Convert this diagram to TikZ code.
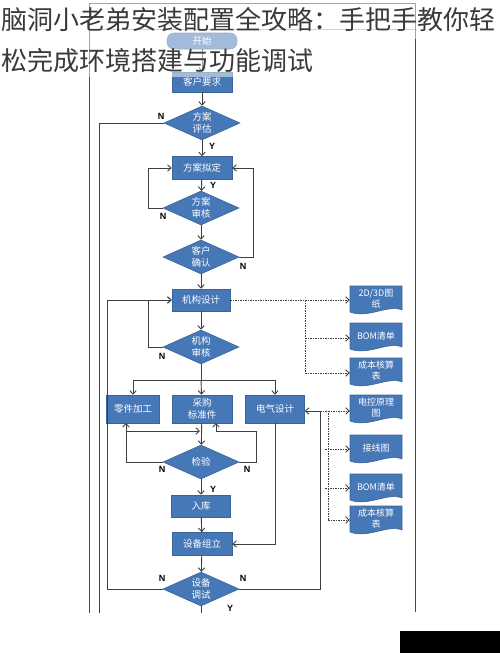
\documentclass[tikz,border=0pt]{standalone}
\usepackage{fontspec}
\newfontfamily\cjk{Noto Sans CJK SC}
\newfontfamily\lat{Liberation Sans}
\usetikzlibrary{shapes.geometric,arrows.meta}
\definecolor{boxblue}{HTML}{4677B6}
\definecolor{boxedge}{HTML}{3A6597}
\definecolor{lnc}{HTML}{3F3F3F}
\definecolor{framec}{HTML}{4A4A4A}
\definecolor{titlec}{HTML}{3A3A3A}
\tikzset{
  box/.style={rectangle, fill=boxblue, draw=boxedge, line width=0.6pt, text=white,
    font=\cjk\fontsize{9.5}{12}\selectfont, minimum width=60pt, minimum height=22pt,
    inner sep=0pt, align=center},
  dia/.style={diamond, shape aspect=2.2, fill=boxblue, draw=boxedge, line width=0.6pt, text=white,
    font=\cjk\fontsize{9.5}{11.5}\selectfont, minimum width=76pt, minimum height=34pt,
    inner sep=0pt, align=center},
  doctext/.style={text=white, font=\cjk\fontsize{9}{11}\selectfont, minimum width=52pt,
    minimum height=26pt, inner sep=0pt, align=center},
  ln/.style={draw=lnc, line width=0.9pt},
  arr/.style={ln, -{Straight Barb[length=3.5pt,width=6.5pt]}},
  dln/.style={draw=lnc, line width=0.9pt, dash pattern=on 1.5pt off 1pt},
  darr/.style={dln, -{Straight Barb[length=3.5pt,width=6.5pt]}},
  yn/.style={font=\lat\bfseries\fontsize{9}{10}\selectfont, text=black, inner sep=0pt},
  framel/.style={draw=framec, line width=1pt},
}
\newcommand{\docshape}[4]{%
  \filldraw[fill=boxblue, draw=boxedge, line width=0.6pt]
    ({#2-26},{#3-14}) -- ({#2+26},{#3-14}) -- ({#2+26},{#3+10})
    .. controls ({#2+12},{#3+4}) and ({#2-8},{#3+19}) .. ({#2-26},{#3+12}) -- cycle;
  \node[doctext] (#1) at (#2,{#3-1}) {#4};}
\begin{document}
\begin{tikzpicture}[x=1pt,y=-1pt]
\useasboundingbox (0,0) rectangle (500,653);
\fill[white] (0,0) rectangle (500,653);
% frame
\draw[framel] (89,3) -- (415,3);
\draw[framel] (89,3) -- (89,613);
\draw[framel] (415,3) -- (415,612);
\draw[draw=gray!70, line width=0.8pt] (89,29) -- (415,29);
% nodes
\node[box, rounded corners=7pt, minimum width=70pt, minimum height=16pt] (start) at (202,41) {开始};
\node[box, minimum height=20pt] (req) at (202,82) {客户要求};
\node[dia] (eval) at (202,123) {方案\\评估};
\node[box, minimum height=23pt] (plan) at (202,168) {方案拟定};
\node[dia] (rev) at (201,208) {方案\\审核};
\node[dia] (conf) at (201,257) {客户\\确认};
\node[box, minimum width=58pt] (mech) at (201,300) {机构设计};
\node[dia] (mrev) at (201,347) {机构\\审核};
\node[box, minimum width=53pt, minimum height=28pt] (parts) at (133,409) {零件加工};
\node[box, minimum height=28pt] (buy) at (202,409) {采购\\标准件};
\node[box, minimum width=59pt, minimum height=28pt] (elec) at (275,409) {电气设计};
\node[dia] (test) at (201,462) {检验};
\node[box, minimum width=59pt] (store) at (201,506) {入库};
\node[box, minimum height=23pt] (asm) at (202,544) {设备组立};
\node[dia] (debug) at (201,589) {设备\\调试};
% documents
\docshape{d1}{376}{300}{2D/3D图\\纸}
\docshape{d2}{376}{337}{BOM清单}
\docshape{d3}{376}{372}{成本核算\\表}
\docshape{e1}{376}{409}{电控原理\\图}
\docshape{e2}{376}{449}{接线图}
\docshape{e3}{376}{488}{BOM清单}
\docshape{e4}{376}{520}{成本核算\\表}
% free ends
\coordinate (endL) at (99,613);
\coordinate (endY) at (201,613);
\coordinate (br) at (201,380);
% connectors
\draw[arr] (start) -- (req);
\draw[arr] (req) -- (eval);
\draw[arr] (eval) -- (plan);
\node[yn] at (212,146) {Y};
\draw[ln] (eval.west) -| (endL);
\node[yn] at (161,116) {N};
\draw[arr] (rev.west) -- (148,208) |- (plan.west);
\node[yn] at (163,216) {N};
\draw[arr] (conf.east) -- (253,257) |- (plan.east);
\node[yn] at (243,266) {N};
\draw[arr] (plan) -- (rev);
\node[yn] at (213,185) {Y};
\draw[arr] (rev) -- (conf);
\draw[arr] (conf) -- (mech);
\draw[arr] (mech) -- (mrev);
\draw[arr] (mrev.west) -- (148,347) |- (mech.west);
\node[yn] at (162,356) {N};
\draw[ln] (mrev) -- (br);
\draw[ln] (133,380) -- (275,380);
\draw[arr] (br) -- (buy);
\draw[arr] (133,380) -- (parts);
\draw[arr] (275,380) -- (elec);
\draw[arr] (buy) -- (test);
\draw[arr] (test.west) -| (126,423);
\node[yn] at (162,469) {N};
\draw[arr] (126,431) -- (200,431);
\draw[arr] (test.east) -- (256,462) -- (256,431) -- (216,431) -- (216,423);
\node[yn] at (247,469) {N};
\draw[arr] (test) -- (store);
\node[yn] at (213,489) {Y};
\draw[arr] (store) -- (asm);
\draw[arr] (elec.south) |- (asm.east);
\draw[arr] (asm) -- (debug);
\draw[ln] (debug) -- (endY);
\node[yn] at (230,608) {Y};
\draw[arr] (debug.west) -| (107,300) -- (mech.west);
\node[yn] at (162,578) {N};
\draw[arr] (debug.east) -| (320,411) -- (elec.east |- 0,411);
\node[yn] at (243,578) {N};
% dashed to documents
\draw[dln] (mech.east) -- (305,300) -- (305,373);
\draw[darr] (305,300) -- (d1.west |- 0,300);
\draw[darr] (305,338) -- (d2.west |- 0,338);
\draw[darr] (305,373) -- (d3.west |- 0,373);
\draw[dln] (320,411) -- (328,411) -- (328,520);
\draw[darr] (328,411) -- (e1.west |- 0,411);
\draw[darr] (325,449) -- (e2.west |- 0,449);
\draw[darr] (325,488) -- (e3.west |- 0,488);
\draw[darr] (328,520) -- (e4.west |- 0,520);
% title backdrop and title
\fill[white, fill opacity=0.5] (0,0) rectangle (500,39);
\fill[white, fill opacity=0.5] (0,39) rectangle (312,77);
\node[anchor=west, inner sep=0pt, text=titlec, font=\cjk\fontsize{26}{30}\selectfont] (t1) at (1,20) {脑洞小老弟安装配置全攻略：手把手教你轻};
\node[anchor=west, inner sep=0pt, text=titlec, font=\cjk\fontsize{26}{30}\selectfont] (t2) at (1,61) {松完成环境搭建与功能调试};
% watermark block
\fill[black] (400,631) rectangle (500,653);
\end{tikzpicture}
\end{document}
